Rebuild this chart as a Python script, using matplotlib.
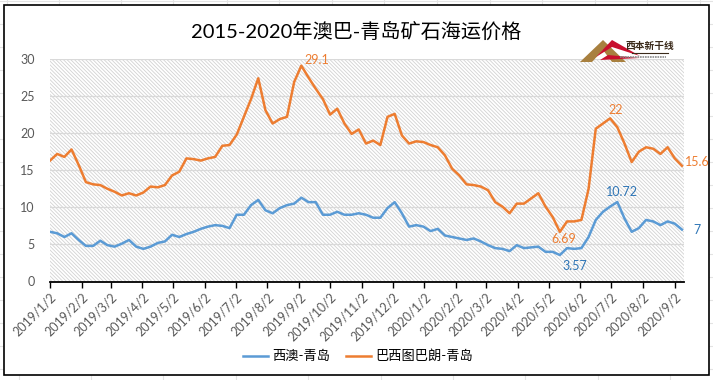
import pandas as pd
import matplotlib
matplotlib.use('Agg')
import matplotlib.pyplot as plt
from matplotlib.patches import Rectangle, Polygon
from matplotlib.lines import Line2D

plt.rcParams['font.family'] = ['Lato', 'Noto Sans CJK SC', 'DejaVu Sans']
plt.rcParams['hatch.color'] = '#d2d2d2'
plt.rcParams['hatch.linewidth'] = 0.6

# weekly readings, starting 2019/1/2
dates = pd.date_range('2019-01-02', periods=89, freq='7D')

west_aus = [6.7, 6.5, 6.0, 6.5, 5.6, 4.8, 4.8, 5.5, 4.9, 4.7,
            5.1, 5.6, 4.7, 4.4, 4.7, 5.2, 5.4, 6.3, 6.0, 6.4,
            6.7, 7.1, 7.4, 7.6, 7.5, 7.2, 9.0, 9.0, 10.3, 11.0,
            9.6, 9.2, 9.9, 10.3, 10.5, 11.3, 10.7, 10.7, 9.0, 9.0,
            9.4, 9.0, 9.0, 9.2, 9.0, 8.6, 8.6, 9.9, 10.7, 9.2,
            7.4, 7.6, 7.4, 6.8, 7.1, 6.2, 6.0, 5.8, 5.6, 5.8,
            5.4, 4.9, 4.5, 4.4, 4.1, 4.9, 4.5, 4.6, 4.7, 4.0,
            4.0, 3.57, 4.5, 4.4, 4.5, 6.0, 8.3, 9.4, 10.1, 10.72,
            8.5, 6.7, 7.2, 8.3, 8.1, 7.6, 8.1, 7.8, 7.0]

tubarao = [16.3, 17.2, 16.8, 17.8, 15.7, 13.4, 13.1, 13.0, 12.5, 12.1,
           11.6, 11.9, 11.6, 12.0, 12.8, 12.7, 13.0, 14.3, 14.8, 16.6,
           16.5, 16.3, 16.6, 16.8, 18.3, 18.4, 19.8, 22.2, 24.6, 27.4,
           23.1, 21.3, 21.9, 22.2, 26.9, 29.1, 27.5, 26.0, 24.6, 22.5,
           23.3, 21.3, 19.9, 20.5, 18.6, 19.0, 18.4, 22.2, 22.6, 19.7,
           18.6, 18.9, 18.8, 18.4, 18.1, 17.0, 15.2, 14.3, 13.1, 13.0,
           12.8, 12.3, 10.7, 10.1, 9.2, 10.5, 10.5, 11.2, 11.9, 10.1,
           8.7, 6.69, 8.1, 8.1, 8.3, 12.5, 20.6, 21.3, 22.0, 20.8,
           18.6, 16.1, 17.5, 18.1, 17.9, 17.2, 18.1, 16.6, 15.6]

series_names = ['西澳-青岛', '巴西图巴朗-青岛']
title = '2015-2020年澳巴-青岛矿石海运价格'
tick_dates = pd.date_range('2019-01-01', '2020-09-01', freq='MS') + pd.Timedelta(days=1)

blue = '#5b9bd5'
orange = '#ed7d31'
blue_txt = '#2e75b6'

W, H = 713, 380
fig = plt.figure(figsize=(W / 100, H / 100), dpi=100)

# spreadsheet cell lines behind the chart
for y in range(0, H, 23):
    fig.add_artist(Line2D([0, 1], [1 - (y + 0.5) / H] * 2, color='#e3e3e3', lw=0.8, zorder=-3))
for x in [7, 59, 121, 173, 227, 279, 332, 384, 437, 490, 542, 595, 647, 700]:
    fig.add_artist(Line2D([x / W] * 2, [1, 1 - 8 / H], color='#e3e3e3', lw=0.8, zorder=-3))
for x in [19, 91, 163, 236, 308, 381, 453, 525, 598, 670]:
    fig.add_artist(Line2D([x / W] * 2, [0, 8 / H], color='#e3e3e3', lw=0.8, zorder=-3))

# chart frame
fig.add_artist(Rectangle((4 / W, 1 - 375 / H), 705 / W, 370 / H, transform=fig.transFigure,
                         facecolor='white', edgecolor='black', lw=1.2, zorder=-2))

ax = fig.add_axes([50 / W, 1 - 281.5 / H, 634 / W, 222.5 / H])
ax.set_facecolor('none')
ax.add_patch(Rectangle((0, 0), 1, 1, transform=ax.transAxes, facecolor='white',
                       edgecolor='#d2d2d2', hatch='\\' * 9, lw=0, zorder=0))

ax.plot(dates, west_aus, color=blue, lw=1.8, label=series_names[0], zorder=3)
ax.plot(dates, tubarao, color=orange, lw=1.8, label=series_names[1], zorder=3)

ax.set_xlim(pd.Timestamp('2019-01-02'), pd.Timestamp('2020-09-11'))
ax.set_ylim(0, 30)
ax.set_yticks(range(0, 31, 5))
ax.set_xticks(tick_dates)
ax.set_xticklabels([f'{d.year}/{d.month}/{d.day}' for d in tick_dates], rotation=45,
                   ha='right', rotation_mode='anchor')
ax.tick_params(axis='x', colors='#595959', labelsize=9, length=4, width=1, direction='out', pad=3)
ax.tick_params(axis='x', color='black')
ax.tick_params(axis='y', colors='#595959', labelsize=9, length=0, pad=11)
ax.grid(axis='y', color='#d9d9d9', lw=0.9)
ax.set_axisbelow(True)
for s in ['left', 'right', 'top']:
    ax.spines[s].set_visible(False)
ax.spines['bottom'].set_color('black')
ax.spines['bottom'].set_linewidth(1.3)
ax.spines['bottom'].set_zorder(4)

# data labels (offsets in points)
def label(x, y, txt, dx, dy, color, ha='center'):
    ax.annotate(txt, (x, y), xytext=(dx, dy), textcoords='offset points', ha=ha,
                va='center', color=color, fontsize=9, zorder=5)

label(dates[35], tubarao[35], '29.1', 11, 4, orange)
label(dates[78], tubarao[78], '22', 4, 6, orange)
label(dates[88], tubarao[88], '15.6', 2, 3, orange, ha='left')
label(dates[71], tubarao[71], '6.69', 3, -5, orange)
label(dates[71], west_aus[71], '3.57', 11, -8, blue_txt)
label(dates[79], west_aus[79], '10.72', 3, 7, blue_txt)
label(dates[88], west_aus[88], '7', 11, 0, blue_txt)

fig.text(356 / W, 1 - 31 / H, title, ha='center', va='center', fontsize=14.5, color='black')

# logo
fig.add_artist(Polygon([(580 / W, 1 - 62 / H), (603 / W, 1 - 40 / H), (626 / W, 1 - 62 / H),
                        (612 / W, 1 - 62 / H), (603 / W, 1 - 50 / H), (592 / W, 1 - 62 / H)],
                       closed=True, transform=fig.transFigure, facecolor='#a8803f', edgecolor='none'))
fig.add_artist(Polygon([(596 / W, 1 - 57 / H), (612 / W, 1 - 40 / H), (640 / W, 1 - 56 / H),
                        (612 / W, 1 - 47 / H)],
                       closed=True, transform=fig.transFigure, facecolor='#c8102e', edgecolor='none'))
fig.add_artist(Polygon([(600 / W, 1 - 60 / H), (640 / W, 1 - 58 / H), (608 / W, 1 - 55 / H)],
                       closed=True, transform=fig.transFigure, facecolor='#c8102e', edgecolor='none'))
fig.text(650 / W, 1 - 46 / H, '西本新干线', ha='center', va='center', fontsize=7,
         fontweight='bold', color='#3a2a1a')
fig.add_artist(Line2D([632 / W, 668 / W], [1 - 53 / H] * 2, color='#3a2a1a', lw=0.8))
fig.add_artist(Line2D([620 / W, 666 / W], [1 - 57 / H] * 2, color='#8a8a8a', lw=1.2, ls=(0, (1, 0.5))))

fig.legend(loc='center', bbox_to_anchor=(358 / W, 1 - 356 / H), ncol=2, frameon=False,
           fontsize=9.5, handlelength=1.9, columnspacing=1.2, handletextpad=0.3)

fig.savefig('out.png', dpi=100)
